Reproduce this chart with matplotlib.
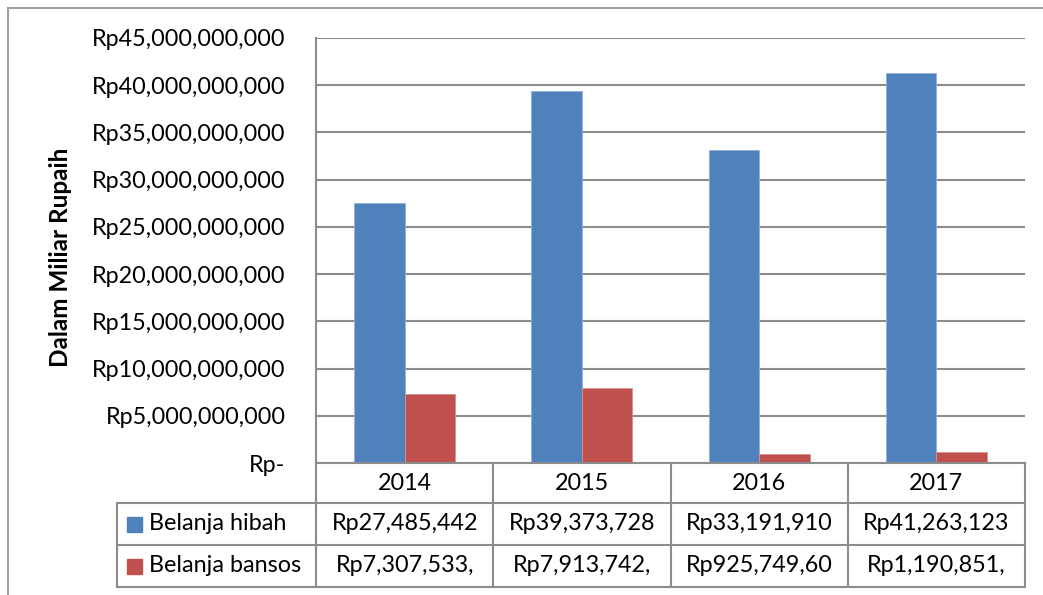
import matplotlib.pyplot as plt
import numpy as np
from matplotlib.patches import Rectangle
from matplotlib.ticker import FuncFormatter

plt.rcParams['font.family'] = ['Lato', 'DejaVu Sans']

years = ['2014', '2015', '2016', '2017']
series = ['Belanja hibah', 'Belanja bansos']
hibah = [27485442000, 39373728000, 33191910000, 41263123000]
bansos = [7307533000, 7913742000, 925749600, 1190851000]
# text as it shows (cut off) in the data table
hibah_txt = ['Rp27,485,442', 'Rp39,373,728', 'Rp33,191,910', 'Rp41,263,123']
bansos_txt = ['Rp7,307,533,', 'Rp7,913,742,', 'Rp925,749,60', 'Rp1,190,851,']
colors = ['#4F81BD', '#C0504D']
grid_c = '#8C8C8C'
fs = 16.8

W, H = 1043, 595
fig = plt.figure(figsize=(W / 100, H / 100), dpi=100)
ax = fig.add_axes([316 / W, 1 - 463 / H, (1025 - 316) / W, (463 - 38) / H])

x = np.arange(len(years))
bw = 0.285
ax.bar(x - bw / 2, hibah, bw, color=colors[0], edgecolor='#8FB0D9', linewidth=0.6)
ax.bar(x + bw / 2, bansos, bw, color=colors[1], edgecolor='#D98F8D', linewidth=0.6)

ax.set_xlim(-0.5, 3.5)
ax.set_ylim(0, 45e9)
ax.set_yticks(np.arange(0, 45e9 + 1, 5e9))
ax.yaxis.set_major_formatter(FuncFormatter(lambda v, p: 'Rp-' if v == 0 else f'Rp{v:,.0f}'))
ax.tick_params(axis='y', length=0, pad=22, labelsize=fs)
ax.set_xticks([])
ax.grid(axis='y', color=grid_c, linewidth=1.5)
ax.set_axisbelow(True)
for s in ['top', 'right', 'bottom']:
    ax.spines[s].set_visible(False)
ax.spines['left'].set_color(grid_c)
ax.spines['left'].set_linewidth(1.5)
fig.text(60 / W, 1 - 257 / H, 'Dalam Miliar Rupaih', rotation=90, ha='center', va='center',
         fontsize=17.5, fontweight='bold')

# data table below the axes, in axes fraction coordinates
aw, ah = 1025 - 316, 463 - 38
left = (117 - 316) / aw
rows = [0, -40 / ah, -82 / ah, -124 / ah]
kw = dict(color=grid_c, linewidth=1.5, clip_on=False, transform=ax.transAxes)
ax.plot([0, 1], [rows[0], rows[0]], **kw)
for r in rows[1:]:
    ax.plot([left, 1], [r, r], **kw)
ax.plot([left, left], [rows[1], rows[3]], **kw)
for i in range(len(years) + 1):
    ax.plot([i / 4, i / 4], [rows[0], rows[3]], **kw)

for i, yr in enumerate(years):
    cx = (i + 0.5) / 4
    ax.text(cx, (rows[0] + rows[1]) / 2, yr, ha='center', va='center', fontsize=fs, transform=ax.transAxes)
    ax.text(cx, (rows[1] + rows[2]) / 2, hibah_txt[i], ha='center', va='center', fontsize=fs, transform=ax.transAxes)
    ax.text(cx, (rows[2] + rows[3]) / 2, bansos_txt[i], ha='center', va='center', fontsize=fs, transform=ax.transAxes)

for j, name in enumerate(series):
    yc = (rows[j + 1] + rows[j + 2]) / 2
    sq = 15 / aw
    ax.add_patch(Rectangle((left + 10 / aw, yc - 7.5 / ah), sq, 15 / ah, color=colors[j],
                           transform=ax.transAxes, clip_on=False))
    ax.text(left + 32 / aw, yc, name, ha='left', va='center', fontsize=fs, transform=ax.transAxes)

# outer chart border
fig.patches.append(Rectangle((8 / W, -0.02), 1.05, 1 - 8 / H + 0.02, fill=False,
                             edgecolor='#A0A0A0', linewidth=1.5, transform=fig.transFigure))

fig.savefig('out.png', dpi=100)
